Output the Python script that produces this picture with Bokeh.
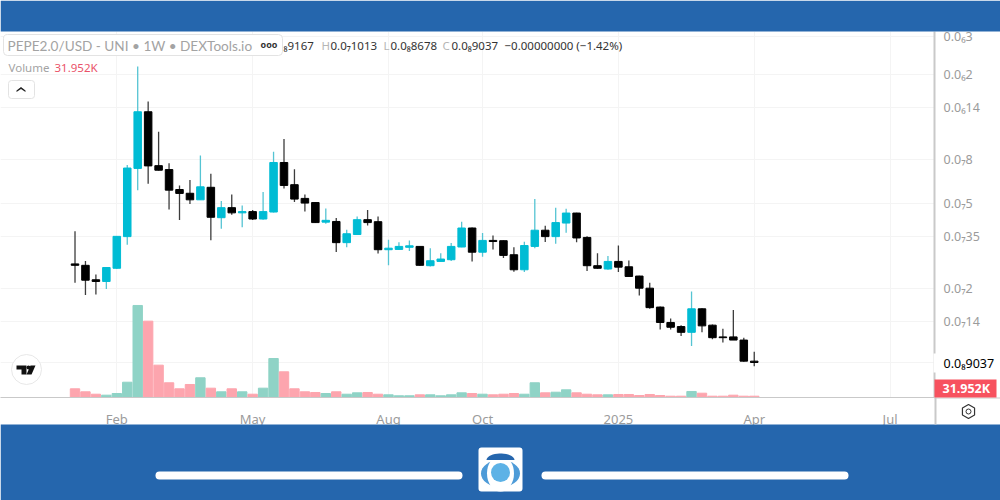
import numpy as np
from bokeh.core.properties import value
from bokeh.embed import file_html
from bokeh.layouts import column
from bokeh.models import ColumnDataSource, FixedTicker, LinearScale, Range1d
from bokeh.plotting import figure
from bokeh.resources import INLINE

# prices are in units of 1e-8 USD, volume in thousands
opens = [2.61, 2.57, 2.20, 2.16, 2.49, 3.50, 7.29, 13.41, 7.51, 7.20,
         5.81, 5.58, 5.20, 5.95, 4.29, 4.78, 4.52, 4.58, 4.23, 4.56,
         7.77, 6.12, 5.28, 5.05, 4.09, 4.12, 3.28, 3.58, 4.20, 4.11,
         3.04, 3.05, 3.12, 3.15, 2.56, 2.68, 2.73, 3.13, 3.84, 2.96,
         3.36, 3.35, 2.88, 2.45, 3.15, 3.75, 3.50, 4.05, 4.51, 3.47,
         2.56, 2.47, 2.68, 2.53, 2.29, 2.01, 1.64, 1.39, 1.33, 1.25,
         1.61, 1.35, 1.19, 1.19, 1.15, 0.9167]
highs = [3.71, 2.69, 2.33, 2.51, 3.51, 7.57, 21.84, 14.99, 10.82, 7.71,
         6.07, 6.44, 8.37, 6.88, 5.13, 5.50, 4.89, 4.66, 5.65, 8.72,
         10.0, 7.23, 5.50, 5.08, 4.73, 4.28, 3.77, 4.34, 4.66, 4.34,
         3.38, 3.29, 3.36, 3.15, 3.09, 2.93, 3.27, 4.11, 3.86, 3.64,
         3.54, 3.36, 3.12, 3.31, 5.24, 3.93, 4.77, 4.72, 4.53, 3.51,
         2.93, 2.84, 3.18, 2.71, 2.30, 2.13, 1.65, 1.45, 1.35, 1.94,
         1.62, 1.36, 1.30, 1.59, 1.18, 1.013]
lows = [2.13, 1.87, 1.88, 1.99, 2.47, 3.21, 5.77, 6.18, 7.13, 4.69,
        4.19, 4.97, 5.20, 3.37, 3.81, 4.43, 3.87, 4.18, 4.20, 4.54,
        5.88, 5.08, 4.59, 4.05, 4.02, 2.97, 3.12, 3.56, 3.95, 2.92,
        2.57, 3.03, 3.00, 2.56, 2.54, 2.67, 2.69, 3.12, 2.68, 2.82,
        3.05, 2.78, 2.40, 2.39, 3.09, 3.30, 3.24, 3.65, 3.29, 2.42,
        2.48, 2.45, 2.39, 2.27, 1.86, 1.61, 1.29, 1.29, 1.20, 1.08,
        1.25, 1.16, 1.12, 1.15, 0.91, 0.8678]
closes = [2.57, 2.19, 2.16, 2.51, 3.51, 7.32, 13.41, 7.49, 7.15, 5.77,
          5.57, 5.20, 5.98, 4.31, 4.78, 4.52, 4.58, 4.23, 4.58, 7.77,
          6.07, 5.24, 5.02, 4.07, 4.17, 3.28, 3.61, 4.20, 4.07, 3.04,
          3.09, 3.15, 3.17, 2.57, 2.70, 2.75, 3.15, 3.84, 2.96, 3.36,
          3.32, 2.86, 2.45, 3.18, 3.75, 3.50, 4.07, 4.51, 3.45, 2.56,
          2.49, 2.68, 2.52, 2.28, 2.01, 1.63, 1.39, 1.32, 1.25, 1.61,
          1.34, 1.18, 1.18, 1.15, 0.9167, 0.9037]
volumes = [214, 140, 81, 57, 98, 376, 2263, 1877, 795, 362,
           214, 320, 485, 229, 140, 214, 140, 81, 229, 959,
           632, 214, 140, 123, 98, 140, 81, 115, 123, 81,
           66, 42, 42, 66, 66, 42, 66, 115, 98, 81,
           66, 81, 98, 81, 362, 115, 130, 189, 115, 81,
           66, 66, 74, 74, 49, 74, 49, 32, 32, 148,
           106, 32, 32, 57, 32, 31.952]

price_ticks = [30, 20, 14, 8, 5, 3.5, 2, 1.4, 0.9]
price_labels = ["0.0₆3", "0.0₆2", "0.0₆14", "0.0₇8", "0.0₇5", "0.0₇35", "0.0₇2", "0.0₇14", ""]
date_ticks = [4, 17, 30, 39, 52, 65, 78]
date_labels = ["Feb", "May", "Aug", "Oct", "2025", "Apr", "Jul"]

FONT = "Noto Sans"
BLUE = "#2566ad"
CYAN = "#00bcd4"
GREY = "#9b9b9b"
LINE = "#c9c9c9"
GRID = "#f4f4f4"

df = ColumnDataSource(data=dict(
    x=list(range(len(opens))),
    high=highs, low=lows, volume=volumes,
    top=[max(o, c) for o, c in zip(opens, closes)],
    bottom=[min(o, c) for o, c in zip(opens, closes)],
    body=[CYAN if c > o else "#000000" for o, c in zip(opens, closes)],
    wick=["#55c4d3" if c > o else "#3c3c3c" for o, c in zip(opens, closes)],
    vol=["#8fd3c6" if c > o else "#fda5ae" for o, c in zip(opens, closes)],
))

p = figure(width=1000, height=500, output_backend="svg", toolbar_location=None, tools="",
           y_axis_type="log", y_axis_location="right",
           x_range=Range1d(-7.13, 82.25), y_range=Range1d(0.62, 31.8),
           min_border_left=0, min_border_right=66, min_border_top=31, min_border_bottom=103,
           outline_line_color=None, frame_align=False)

p.extra_y_ranges = {"volume": Range1d(0, 9000)}
p.extra_y_scales = {"volume": LinearScale()}

p.vbar(x="x", top="volume", bottom=0, width=0.9, color="vol", source=df, y_range_name="volume")
p.segment(x0="x", x1="x", y0="low", y1="high", color="wick", line_width=1.3, source=df)
p.vbar(x="x", top="top", bottom="bottom", width=0.72, fill_color="body", line_color="body",
       line_width=1, source=df)

p.yaxis.ticker = FixedTicker(ticks=price_ticks)
p.yaxis.major_label_overrides = dict(zip(price_ticks, price_labels))
p.xaxis.ticker = FixedTicker(ticks=date_ticks)
p.xaxis.major_label_overrides = dict(zip(date_ticks, date_labels))
for ax in (p.xaxis, p.yaxis):
    ax.major_tick_line_color = None
    ax.minor_tick_line_color = None
    ax.axis_line_color = LINE
    ax.major_label_text_color = GREY
    ax.major_label_text_font = FONT
p.xaxis.major_label_text_font_size = "13px"
p.yaxis.major_label_text_font_size = "12.5px"
p.yaxis.axis_line_width = 2
p.yaxis.major_label_standoff = 3
p.xaxis.major_label_standoff = 6
p.grid.grid_line_color = GRID

# second, see-through figure on top: page furniture in page pixels
c = figure(width=1000, height=500, output_backend="svg", toolbar_location=None, tools="",
           x_range=Range1d(0, 1000), y_range=Range1d(500, 0), x_axis_type=None, y_axis_type=None,
           min_border=0, outline_line_color=None, background_fill_color=None,
           border_fill_color=None, margin=(-500, 0, 0, 0), frame_align=False)
c.grid.visible = False


def box(left, right, top, bottom, fill, line=None, radius=0):
    c.quad(left=left, right=right, top=top, bottom=bottom, fill_color=fill, line_color=line,
           border_radius=radius)


def note(x, y, text, color, size=12, bold=False, font=FONT):
    c.text(x=[x], y=[y], text=[text], text_color=color, text_font=value(font),
           text_font_size=f"{size}px", text_baseline="middle",
           text_font_style="bold" if bold else "normal")


# blue bands and the rest of the axis lines
box(0, 1000, 0, 31, BLUE)
box(0, 1000, 424, 500, BLUE)
box(934, 936, 397, 424, LINE)
box(934, 1000, 397, 398, LINE)

# footer: two pills and the logo
box(155, 462, 471, 479, "#ffffff", radius=4)
box(541, 848, 471, 479, "#ffffff", radius=4)
box(478, 522, 447, 491, "#ffffff", radius=3)
c.ellipse(x=[500], y=[473], width=[39], height=[27], fill_color="#4d9bd8", line_color=None)
c.ellipse(x=[500], y=[473], width=[27], height=[36], fill_color="#ffffff", line_color=None)
c.ellipse(x=[500], y=[472], width=[19], height=[19], fill_color="#5db2e6", line_color=None)
t = np.linspace(np.pi, 0, 20)
c.patch(500 + 14 * np.cos(t), 459.5 - 6.5 * np.sin(t), fill_color=BLUE, line_color=None)

# header legend
box(3, 282, 34, 55, "#ffffff", line="#e3e3e3", radius=4)
note(7, 45, "PEPE2.0/USD - UNI • 1W • DEXTools.io", "#a3a3a3", 13.6, font="Lato")
note(260, 44, "ooo", "#333333", 9, bold=True)
note(283, 45, "₈9167", "#333333", 11.5)
note(321, 45, "H", "#b5b5b5", 11.5)
note(330, 45, "0.0₇1013", "#333333", 11.5)
note(383, 45, "L", "#b5b5b5", 11.5)
note(390, 45, "0.0₈8678", "#333333", 11.5)
note(442, 45, "C", "#b5b5b5", 11.5)
note(451, 45, "0.0₈9037", "#333333", 11.5)
note(504, 45, "−0.00000000 (−1.42%)", "#333333", 11.5)
note(8, 67, "Volume", "#a3a3a3", 11.5)
note(54, 67, "31.952K", "#ea5269", 11.5)
box(8, 34, 80, 98, "#ffffff", line="#e3e3e3", radius=3)
c.patch([16, 20.5, 25, 25, 20.5, 16], [90, 86.5, 90, 91.5, 88.5, 91.5], fill_color="#222222",
        line_color=None)

# last value tags on the price scale
box(933, 1000, 353, 372, "#ffffff")
note(943, 363, "0.0₈9037", "#000000", 12.5)
box(934, 996, 379, 397, "#f7525f")
note(942, 388, "31.952K", "#ffffff", 12.5, bold=True)

# settings icon
a = np.pi / 3 * np.arange(6)
c.patch(968 + 7 * np.sin(a), 411 + 7 * np.cos(a), fill_color=None, line_color="#333333",
        line_width=1.2)
c.ellipse(x=[968], y=[411], width=[5], height=[5], fill_color=None, line_color="#333333")

# TradingView badge
c.ellipse(x=[26], y=[369], width=[30], height=[30], fill_color="#ffffff", line_color="#e8e8e8")
c.patch([16, 26, 26, 21, 21, 16], [365, 365, 374, 374, 369, 369], fill_color="#111111",
        line_color=None)
c.ellipse(x=[28], y=[367], width=[4], height=[4], fill_color="#111111", line_color=None)
c.patch([30, 35, 31, 26], [365, 365, 374, 374], fill_color="#111111", line_color=None)

page = column(p, c, styles={"position": "absolute", "left": "0px", "top": "0px"})
open("out.html", "w").write(file_html(page, INLINE))
